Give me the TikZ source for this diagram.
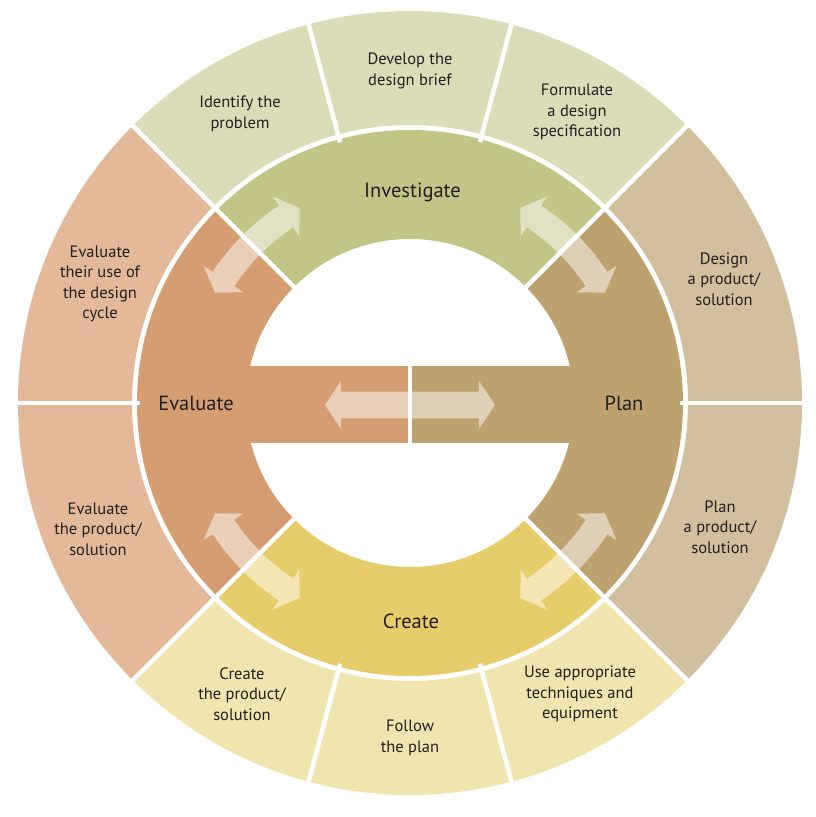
\documentclass[tikz,border=0pt]{standalone}
\usepackage{fontspec}
\setmainfont{PT Sans}
\definecolor{outTop}{RGB}{219,221,185}
\definecolor{inTop}{RGB}{195,197,135}
\definecolor{outRight}{RGB}{209,191,158}
\definecolor{inRight}{RGB}{189,162,112}
\definecolor{outBot}{RGB}{241,229,175}
\definecolor{inBot}{RGB}{231,204,106}
\definecolor{outLeft}{RGB}{227,185,153}
\definecolor{inLeft}{RGB}{212,157,114}
\definecolor{ink}{RGB}{35,31,32}
\newcommand\annsec[5]{\fill[#1] (#2:#4pt) arc[start angle=#2,end angle=#3,radius=#4pt] -- (#3:#5pt) arc[start angle=#3,end angle=#2,radius=#5pt] -- cycle;}
\newcommand\curvarr[1]{%
  \pgfmathsetmacro\aA{#1-15.5}\pgfmathsetmacro\aB{#1-11.4}%
  \pgfmathsetmacro\aC{#1+11.4}\pgfmathsetmacro\aD{#1+15.5}%
  \fill[arrowfill] (\aB:237pt) arc[start angle=\aB,end angle=\aC,radius=237pt]
    -- (\aC:248pt) -- (\aD:224pt) -- (\aC:200pt) -- (\aC:211pt)
    arc[start angle=\aC,end angle=\aB,radius=211pt]
    -- (\aB:200pt) -- (\aA:224pt) -- (\aB:248pt) -- cycle;}
\tikzset{
  arrowfill/.style={fill=white,fill opacity=0.5},
  sep/.style={draw=white,line width=4.5pt},
  small/.style={text=ink,align=center,font=\fontsize{16.5}{20.5}\selectfont},
  big/.style={text=ink,align=center,font=\fontsize{20.5}{24}\selectfont}
}
\begin{document}
\begin{tikzpicture}[x=1pt,y=1pt]
\useasboundingbox (-410,-414) rectangle (405,403);
% inner ring
\annsec{inTop}{45}{135}{164}{273}
\annsec{inLeft}{135}{225}{164}{273}
\annsec{inBot}{225}{315}{164}{273}
\annsec{inRight}{-45}{45}{164}{273}
% central bar
\fill[inLeft] (-200,-40.3) rectangle (-2,37);
\fill[inRight] (2,-40.3) rectangle (200,37);
% outer ring
\annsec{outTop}{45}{135}{278}{392}
\annsec{outLeft}{135}{225}{278}{392}
\annsec{outBot}{225}{315}{278}{392}
\annsec{outRight}{-45}{45}{278}{392}
% separators
\foreach \a in {45,135,225,315} \draw[sep] (\a:150pt) -- (\a:400pt);
\foreach \a in {0,75,105,180,255,285} \draw[sep] (\a:270pt) -- (\a:400pt);
\draw[draw=white,line width=4pt] (0,-40.3) -- (0,37);
% arrows
\curvarr{45}
\curvarr{135}
\curvarr{225}
\curvarr{315}
\fill[arrowfill] (-85,-2) -- (-69,22) -- (-69,11.3) -- (69,11.3) -- (69,22)
  -- (85,-2) -- (69,-26) -- (69,-15.3) -- (-69,-15.3) -- (-69,-26) -- cycle;
% main labels
\node[big] (inv) at (2.5,211) {Investigate};
\node[big] (pln) at (214,0) {Plan};
\node[big] (cre) at (1,-218) {Create};
\node[big] (eva) at (-214,0) {Evaluate};
% outer labels
\node[small] (idp) at (-170,289) {Identify the\\problem};
\node[small] (dev) at (0,332) {Develop the\\design brief};
\node[small] (frm) at (167,291) {Formulate\\a design\\specification};
\node[small] (dsg) at (314,124) {Design\\a product/\\solution};
\node[small] (pap) at (310,-124) {Plan\\a product/\\solution};
\node[small] (use) at (170,-291) {Use appropriate\\techniques and\\equipment};
\node[small] (fol) at (0,-335) {Follow\\the plan};
\node[small] (ctp) at (-168,-291) {Create\\the product/\\solution};
\node[small] (etp) at (-312,-126) {Evaluate\\the product/\\solution};
\node[small] (etu) at (-310,119) {Evaluate\\their use of\\the design\\cycle};
\end{tikzpicture}
\end{document}
